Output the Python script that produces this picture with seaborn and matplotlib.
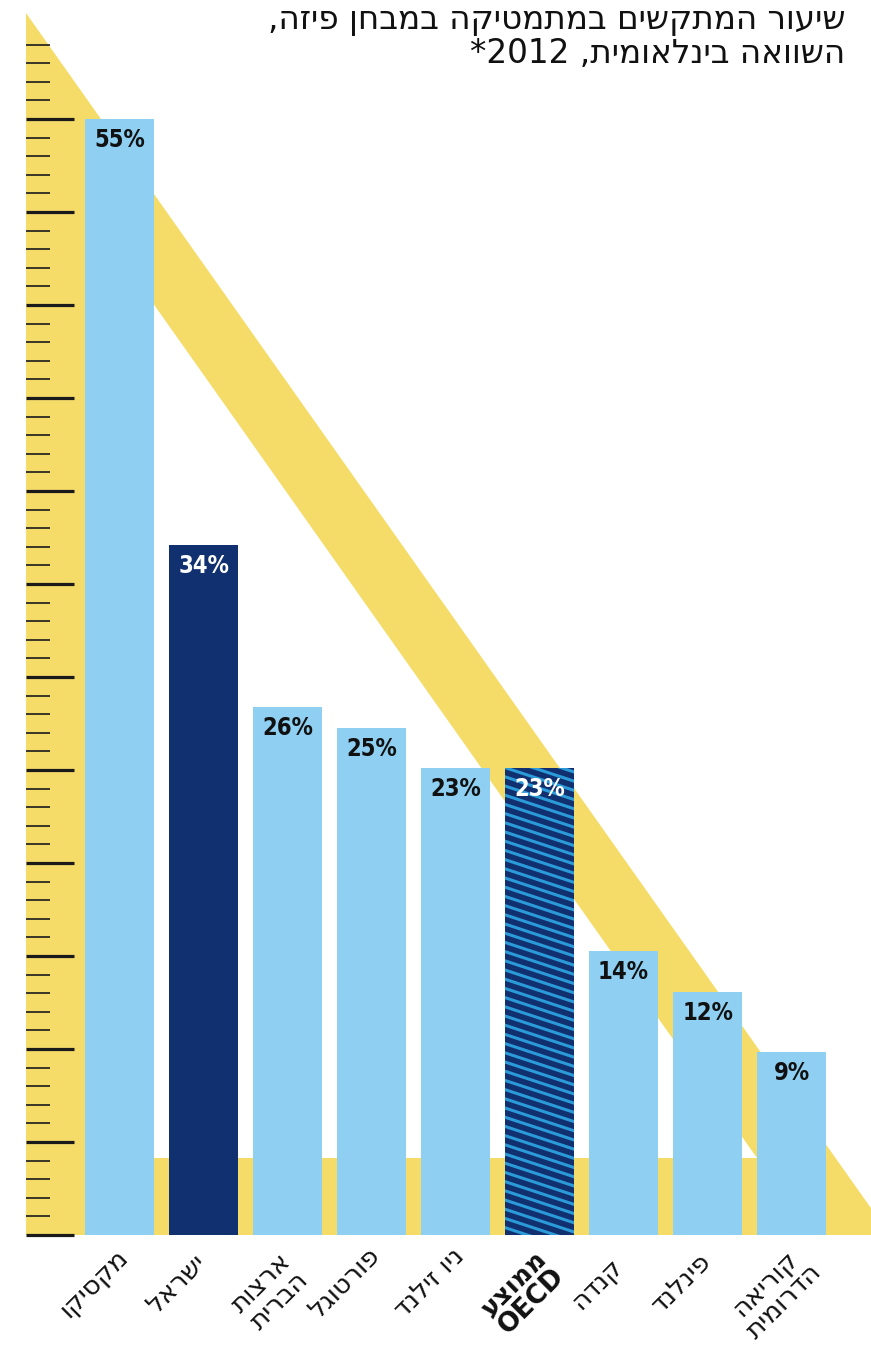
import re
import numpy as np
import pandas as pd
import matplotlib
matplotlib.use("Agg")
import matplotlib.pyplot as plt
from matplotlib.patches import Polygon
import seaborn as sns

# data
countries = ["מקסיקו", "ישראל", "ארצות\nהברית", "פורטוגל", "ניו זילנד",
             "ממוצע\nOECD", "קנדה", "פינלנד", "קוריאה\nהדרומית"]
values = [55, 34, 26, 25, 23, 23, 14, 12, 9]
highlight = ["ישראל", "ממוצע\nOECD"]
title_1 = "שיעור המתקשים במתמטיקה במבחן פיזה,"
title_2 = "השוואה בינלאומית, 2012*"

light_blue = "#8ecff2"
navy = "#11306f"
stripe_blue = "#2b9ad8"
yellow = "#f5dc69"


def rtl(s):
    # matplotlib has no bidi, so flip hebrew lines by hand
    out = []
    for line in s.split("\n"):
        rev = line[::-1]
        rev = re.sub(r"[0-9A-Za-z]+", lambda m: m.group(0)[::-1], rev)
        out.append(rev)
    return "\n".join(out)


# pixel helpers (image px -> data units)
ppu = 20.29      # px per percent
base_py = 1235   # baseline in px from top
def dx(px):
    return (px - 119.5) / 84.0
def dy(py):
    return (base_py - py) / ppu


sns.set_style("white")
plt.rcParams["font.family"] = ["DejaVu Sans"]

fig = plt.figure(figsize=(8.71, 13.49), dpi=100)
ax = fig.add_axes([0, 0, 1, 1])

df = pd.DataFrame({"country": countries, "value": values})
bar_colors = [navy if c in highlight else light_blue for c in countries]
sns.barplot(data=df, x="country", y="value", hue="country", order=countries,
            hue_order=countries, palette=bar_colors, saturation=1,
            width=0.82, legend=False, ax=ax, zorder=2, linewidth=0)

ax.set_xlim(dx(0), dx(871))
ax.set_ylim(dy(1349), dy(0))
ax.set_axis_off()

# the yellow set square behind the bars
slope = 1.415
outer = [(26, 13), (26, base_py), (26 + (base_py - 13) / slope, base_py)]
inner = [(85, 1158 - 672 * slope), (85, 1158), (757, 1158)]
ax.add_patch(Polygon([(dx(x), dy(y)) for x, y in outer], closed=True,
                     facecolor=yellow, edgecolor="none", zorder=0))
ax.add_patch(Polygon([(dx(x), dy(y)) for x, y in inner], closed=True,
                     facecolor="white", edgecolor="none", zorder=0.5))

# ruler ticks
for j in range(0, 65):
    py = base_py - 18.6 * j
    major = j % 5 == 0
    ax.plot([dx(26), dx(74 if major else 50)], [dy(py), dy(py)],
            color="#1a1a1a", lw=2.3 if major else 1.2,
            solid_capstyle="butt", zorder=1)

# bars sorted by position
bars = sorted([p for c in ax.containers for p in c], key=lambda p: p.get_x())

# striped OECD bar
oecd_bar = bars[countries.index("ממוצע\nOECD")]
for c in np.arange(740, 1260, 9.2):
    ln, = ax.plot([dx(495), dx(585)], [dy(c - 0.33 * 10), dy(c + 0.33 * 80)],
                  color=stripe_blue, lw=2.2, solid_capstyle="butt", zorder=3)
    ln.set_clip_path(oecd_bar)

# value labels
for i, (c, v) in enumerate(zip(countries, values)):
    ax.text(i, v - 21 / ppu, f"{v}%", ha="center", va="center",
            fontsize=17, fontweight="bold", fontstretch="condensed",
            color="white" if c in highlight else "#111111",
            family=["DejaVu Sans"], zorder=4)

# category labels (rotated)
for i, c in enumerate(countries):
    ax.text(i - 35 / 84, dy(1274), rtl(c), rotation=45, rotation_mode="anchor",
            ha="center", va="top", multialignment="center", fontsize=19,
            linespacing=1.0, color="#111111",
            fontweight="bold" if "OECD" in c else "normal")

# title
fig.text(845 / 871, 1 - 29 / 1349, rtl(title_1), ha="right", va="baseline",
         fontsize=23.5, color="#111111")
fig.text(845 / 871, 1 - 63 / 1349, rtl(title_2), ha="right", va="baseline",
         fontsize=23.5, color="#111111")

fig.savefig("out.png", dpi=100)
